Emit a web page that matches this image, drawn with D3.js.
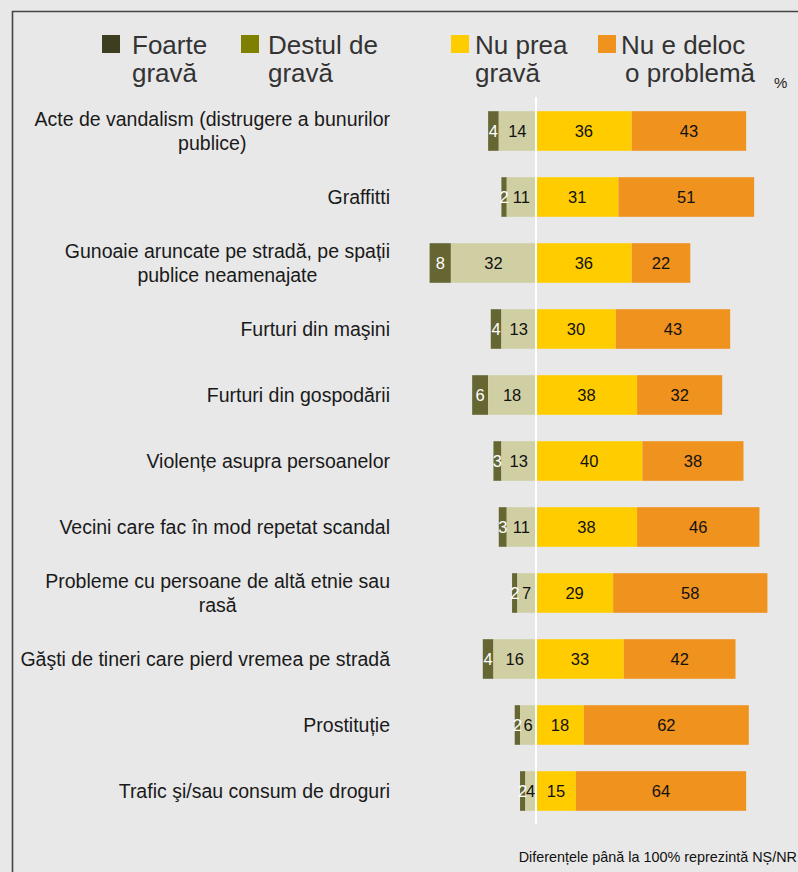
<!DOCTYPE html>
<html>
<head>
<meta charset="utf-8">
<script src="https://cdn.jsdelivr.net/npm/d3@7"></script>
<style>
  body { margin: 0; background: #e8e8e8; }
  svg { display: block; font-family: "Liberation Sans", Arial, sans-serif; }
</style>
</head>
<body>
<div id="chart"></div>
<script>
var categories = [
    "Acte de vandalism (distrugere a bunurilor\npublice)",
    "Graffitti",
    "Gunoaie aruncate pe stradă, pe spații\npublice neamenajate",
    "Furturi din maşini",
    "Furturi din gospodării",
    "Violențe asupra persoanelor",
    "Vecini care fac în mod repetat scandal",
    "Probleme cu persoane de altă etnie sau\nrasă",
    "Găşti de tineri care pierd vremea pe stradă",
    "Prostituție",
    "Trafic şi/sau consum de droguri"
];
var foarteGrava = [4, 2, 8, 4, 6, 3, 3, 2, 4, 2, 2];
var destulDeGrava = [14, 11, 32, 13, 18, 13, 11, 7, 16, 6, 4];
var nuPreaGrava = [36, 31, 36, 30, 38, 40, 38, 29, 33, 18, 15];
var nuEDeloc = [43, 51, 22, 43, 32, 38, 46, 58, 42, 62, 64];

var legendNames = [["Foarte", "gravă"], ["Destul de", "gravă"], ["Nu prea", "gravă"], ["Nu e deloc", "o problemă"]];
var legendColors = ["#3d3d1f", "#808000", "#ffcc00", "#f0931e"];
var barColors = ["#666633", "#d0cfa3", "#ffcc00", "#ef921e"];
var textColors = ["#ffffff", "#111111", "#111111", "#111111"];

var width = 798, height = 872;

var svg = d3.select("#chart").append("svg")
    .attr("width", width)
    .attr("height", height);

svg.append("rect")
    .attr("width", width)
    .attr("height", height)
    .attr("fill", "#e8e8e8");

// frame
svg.append("path")
    .attr("d", "M12.5," + height + "V11.5H" + width)
    .attr("fill", "none")
    .attr("stroke", "#444")
    .attr("stroke-width", 1.6);

var x = d3.scaleLinear()
    .domain([-40, 87])
    .range([536 - 40 * 2.66, 536 + 87 * 2.66]);

var y = d3.scaleBand()
    .domain(d3.range(categories.length))
    .range([98, 824])
    .paddingInner(0.4)
    .paddingOuter(0.2);

// build segments: two negative, two positive
var rows = categories.map(function (c, i) {
    var vals = [foarteGrava[i], destulDeGrava[i], nuPreaGrava[i], nuEDeloc[i]];
    var segs = [];
    var pos = -(vals[0] + vals[1]);
    vals.forEach(function (v, k) {
        segs.push({ k: k, v: v, x0: pos, x1: pos + v, row: i });
        pos += v;
    });
    return segs;
});

var rowG = svg.selectAll("g.row")
    .data(rows)
    .enter().append("g")
    .attr("class", "row");

rowG.selectAll("rect")
    .data(function (d) { return d; })
    .enter().append("rect")
    .attr("x", function (d) { return x(d.x0); })
    .attr("width", function (d) { return x(d.x1) - x(d.x0); })
    .attr("y", function (d) { return y(d.row); })
    .attr("height", y.bandwidth())
    .attr("fill", function (d) { return barColors[d.k]; });

rowG.selectAll("text")
    .data(function (d) { return d; })
    .enter().append("text")
    .attr("x", function (d) { return (x(d.x0) + x(d.x1)) / 2; })
    .attr("y", function (d) { return y(d.row) + y.bandwidth() / 2 + 6; })
    .attr("text-anchor", "middle")
    .attr("font-size", 16.5)
    .attr("fill", function (d) { return textColors[d.k]; })
    .text(function (d) { return d.v; });

// zero line
svg.append("line")
    .attr("x1", x(0)).attr("x2", x(0))
    .attr("y1", 97).attr("y2", 824)
    .attr("stroke", "#ffffff")
    .attr("stroke-width", 2);

// category labels
var labelRight = 390;
categories.forEach(function (c, i) {
    var lines = c.split("\n");
    var cy = y(i) + y.bandwidth() / 2;
    var g = svg.append("g");
    var texts = lines.map(function (l, j) {
        return g.append("text")
            .attr("y", cy + 7 + (j - (lines.length - 1) / 2) * 24)
            .attr("font-size", 19.5)
            .attr("fill", "#1a1a1a")
            .attr("text-anchor", "middle")
            .text(l);
    });
    var maxW = d3.max(texts, function (t) { return t.node().getComputedTextLength(); });
    texts.forEach(function (t) { t.attr("x", labelRight - maxW / 2); });
});

// legend
var legendX = [102, 241, 451, 598];
var legendTextX = [132, 268, 475, 621];
legendNames.forEach(function (n, i) {
    svg.append("rect")
        .attr("x", legendX[i])
        .attr("y", 35)
        .attr("width", 18)
        .attr("height", 18)
        .attr("fill", legendColors[i]);
    n.forEach(function (l, j) {
        svg.append("text")
            .attr("x", legendTextX[i] + (j == 1 && i == 3 ? 4 : 0))
            .attr("y", 54 + j * 28)
            .attr("font-size", 26)
            .attr("fill", "#333333")
            .text(l);
    });
});

svg.append("text")
    .attr("x", 774)
    .attr("y", 88)
    .attr("font-size", 15)
    .attr("fill", "#222")
    .text("%");

svg.append("text")
    .attr("x", 797)
    .attr("y", 862)
    .attr("text-anchor", "end")
    .attr("font-size", 14.4)
    .attr("fill", "#111")
    .text("Diferențele până la 100% reprezintă NȘ/NR");
</script>
</body>
</html>
